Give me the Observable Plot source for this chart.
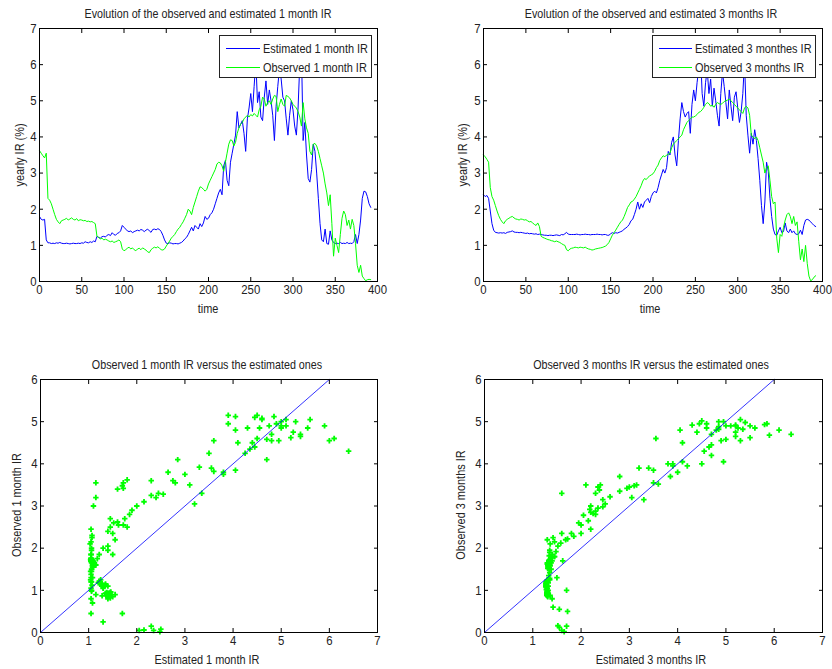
<!DOCTYPE html>
<html><head><meta charset="utf-8">
<script src="https://cdn.jsdelivr.net/npm/d3@7"></script>
<script src="https://cdn.jsdelivr.net/npm/@observablehq/plot@0.6"></script>
<style>
body{margin:0;background:#fff;}
#root{position:relative;width:832px;height:669px;overflow:hidden;background:#fff;}
.panel{position:absolute;}
.lbl{position:absolute;white-space:nowrap;color:#222;line-height:1;transform-origin:50% 50%;}
.legend{position:absolute;background:#fff;border:1px solid #222;box-sizing:border-box;}
.legend .ln{position:absolute;height:0;}
.legend .tx{position:absolute;white-space:nowrap;color:#222;line-height:1;transform-origin:0 50%;}
</style>
</head><body><div id="root"></div><script>
// ---------- data ----------
const time = d3.range(0, 393, 2);
const timeTicks = [0, 50, 100, 150, 200, 250, 300, 350, 400];
const rateTicks = [0, 1, 2, 3, 4, 5, 6, 7];
const scatterXTicks = [0, 1, 2, 3, 4, 5, 6, 7];
const scatterYTicks = [0, 1, 2, 3, 4, 5, 6];
const diagonal = [0, 6];

const est1 = [
1.80,1.72,1.70,1.72,1.15,1.07,1.07,1.05,1.06,1.05,
1.07,1.06,1.08,1.06,1.05,1.05,1.06,1.05,1.04,1.05,
1.06,1.05,1.05,1.06,1.05,1.07,1.06,1.10,1.08,1.07,
1.10,1.08,1.12,1.10,1.25,1.22,1.20,1.24,1.25,1.23,
1.28,1.30,1.27,1.35,1.30,1.28,1.33,1.35,1.40,1.55,
1.50,1.45,1.40,1.38,1.40,1.35,1.38,1.40,1.42,1.40,
1.44,1.42,1.38,1.42,1.45,1.40,1.36,1.44,1.45,1.43,
1.46,1.44,1.38,1.28,1.15,1.06,1.05,1.07,1.06,1.04,
1.05,1.05,1.04,1.06,1.08,1.12,1.18,1.22,1.30,1.40,
1.50,1.40,1.55,1.50,1.45,1.60,1.52,1.62,1.80,1.72,
1.75,1.85,1.90,2.00,2.15,2.30,2.45,2.55,2.40,3.20,
3.35,2.80,2.65,3.30,3.55,3.80,4.05,4.70,4.25,4.35,
4.45,4.10,3.60,4.50,4.80,5.20,4.70,5.40,6.10,4.95,
5.25,4.55,4.45,5.10,5.55,4.90,5.30,5.00,4.60,3.90,
4.85,5.40,5.90,5.60,5.10,5.00,4.50,4.05,4.60,5.00,
4.75,4.30,4.05,4.80,6.00,6.40,3.90,4.40,3.50,2.85,
2.75,3.10,3.80,3.60,3.00,2.30,1.60,1.15,1.10,1.45,
1.05,1.03,1.40,1.15,1.08,1.05,1.06,1.05,1.08,1.05,
1.06,1.05,1.08,1.05,1.06,1.05,1.10,1.30,1.05,1.30,
1.70,2.30,2.50,2.48,2.35,2.15,2.05];

const obs1 = [
3.62,3.55,3.48,3.42,3.55,2.30,2.25,2.15,2.00,1.85,
1.72,1.65,1.60,1.68,1.70,1.72,1.75,1.70,1.73,1.76,
1.72,1.70,1.74,1.68,1.71,1.70,1.68,1.69,1.66,1.67,
1.65,1.66,1.63,1.60,1.25,1.22,1.18,1.20,1.15,1.17,
1.15,1.12,1.10,1.12,1.08,1.10,1.12,1.15,1.10,0.90,
0.85,0.88,0.92,0.95,0.90,0.93,0.88,0.85,0.90,0.92,
0.88,0.93,0.90,0.87,0.82,0.80,0.88,0.92,0.95,0.93,
0.96,0.92,0.88,0.87,0.90,0.98,1.05,1.12,1.20,1.25,
1.30,1.38,1.45,1.50,1.58,1.65,1.75,1.85,2.00,1.95,
1.85,2.05,2.20,2.35,2.50,2.62,2.60,2.55,2.50,2.55,
2.70,2.80,2.90,3.00,3.10,3.25,3.30,3.28,3.20,3.05,
3.30,3.55,3.80,3.92,3.90,3.75,3.85,4.10,4.25,4.35,
4.40,4.50,4.55,4.60,4.55,4.62,4.58,4.65,4.60,4.55,
4.75,4.85,5.10,5.05,4.85,4.95,5.00,4.90,5.05,5.15,
5.12,4.70,4.90,5.05,4.90,4.85,5.15,5.12,5.08,5.00,
4.90,4.85,4.80,4.70,4.55,4.30,4.95,4.50,4.25,4.10,
3.60,3.50,3.80,3.82,3.75,3.60,3.40,3.20,3.00,2.70,
2.45,2.10,2.40,1.60,0.70,1.20,1.00,0.80,1.30,1.75,
1.95,1.85,1.55,1.70,1.45,1.72,1.55,1.05,0.45,0.25,
0.45,0.15,0.08,0.02,0.05,0.06,0.05];

const est3 = [
2.40,2.35,2.38,2.30,1.95,1.60,1.42,1.36,1.35,1.34,
1.35,1.34,1.35,1.33,1.36,1.37,1.38,1.40,1.37,1.36,
1.36,1.35,1.36,1.35,1.34,1.33,1.34,1.32,1.33,1.32,
1.31,1.32,1.30,1.31,1.30,1.29,1.28,1.28,1.27,1.28,
1.28,1.27,1.28,1.29,1.28,1.27,1.30,1.29,1.32,1.36,
1.31,1.30,1.30,1.30,1.30,1.31,1.30,1.29,1.30,1.30,
1.31,1.30,1.30,1.29,1.30,1.30,1.30,1.31,1.30,1.30,
1.29,1.30,1.30,1.28,1.28,1.32,1.35,1.33,1.35,1.34,
1.36,1.38,1.40,1.45,1.48,1.52,1.58,1.68,1.72,1.85,
2.00,2.20,2.00,2.15,2.05,2.20,2.25,2.30,2.18,2.35,
2.45,2.50,2.45,2.60,2.80,2.95,3.10,3.00,3.15,3.60,
3.50,3.85,4.00,3.50,3.20,3.90,4.50,4.95,4.70,4.55,
4.65,4.70,4.10,4.90,5.30,5.00,5.50,5.90,6.35,5.20,
4.85,5.50,5.85,5.20,5.60,4.85,5.35,5.00,4.60,4.30,
5.20,5.80,5.40,4.95,4.50,5.30,4.85,4.45,5.10,5.25,
4.80,4.40,4.70,5.20,6.10,4.60,4.05,3.55,4.10,3.80,
4.20,3.90,3.40,2.80,2.10,1.60,2.20,3.30,3.05,2.30,
1.80,1.45,1.30,1.28,1.40,1.50,1.35,1.38,1.62,1.40,
1.35,1.45,1.35,1.40,1.32,1.30,1.32,1.42,1.30,1.55,
1.70,1.72,1.70,1.65,1.60,1.55,1.52];

const obs3 = [
3.50,3.45,3.38,3.30,2.60,2.35,2.25,2.10,1.95,1.82,
1.72,1.65,1.60,1.68,1.72,1.75,1.78,1.80,1.76,1.73,
1.72,1.70,1.73,1.72,1.70,1.71,1.68,1.65,1.66,1.62,
1.58,1.55,1.62,1.52,1.25,1.22,1.20,1.18,1.16,1.15,
1.13,1.12,1.10,1.12,1.10,1.08,1.05,1.02,1.00,0.88,
0.85,0.90,0.92,0.93,0.95,0.94,0.93,0.95,0.94,0.93,
0.95,0.92,0.90,0.89,0.87,0.88,0.90,0.91,0.92,0.93,
0.94,0.96,0.98,1.02,1.08,1.18,1.28,1.35,1.42,1.50,
1.58,1.65,1.70,1.80,1.92,2.05,2.12,2.20,2.22,2.28,
2.35,2.45,2.55,2.65,2.78,2.85,2.82,2.88,2.92,2.95,
2.98,3.05,3.15,3.22,3.35,3.42,3.48,3.45,3.50,3.52,
3.55,3.70,3.80,3.85,3.90,3.95,4.00,4.05,4.20,4.30,
4.40,4.45,4.50,4.55,4.55,4.58,4.62,4.68,4.70,4.75,
4.82,4.90,4.95,4.92,4.85,4.88,4.82,4.90,4.95,4.92,
4.90,4.93,4.98,5.00,5.02,5.05,5.00,4.95,4.90,4.85,
4.80,4.75,4.70,4.65,4.80,4.85,4.80,4.60,4.05,4.00,
3.95,4.00,3.90,3.70,3.50,3.30,3.00,3.15,3.20,2.80,
2.35,2.15,2.20,1.20,0.80,1.30,1.25,1.50,1.70,1.85,
1.90,1.80,1.60,1.80,1.55,1.65,1.10,0.60,0.90,0.55,
1.00,0.50,0.15,0.02,0.05,0.12,0.16];

const titles = [
  "Evolution of the observed and estimated 1 month IR",
  "Evolution of the observed and estimated 3 months IR",
  "Observed 1 month IR versus the estimated ones",
  "Observed 3 months IR versus the estimated ones"];
const legendLabels1 = ["Estimated 1 month IR", "Observed 1 month IR"];
const legendLabels3 = ["Estimated 3 monthes IR", "Observed 3 months IR"];
const xLabels = ["time", "time", "Estimated 1 month IR", "Estimated 3 months IR"];
const yLabels = ["yearly IR (%)", "yearly IR (%)", "Observed 1 month IR", "Observed 3 months IR"];

const BLUE = "#0000ff", GREEN = "#00ff00", INK = "#222";

// ---------- fonts (Arial-metric font, horizontally condensed like the source) ----------
const FF = `"Liberation Sans", Arial, Helvetica, sans-serif`;
const ctx = document.createElement("canvas").getContext("2d");
function tw(size, s) { ctx.font = `${size}px ${FF}`; return ctx.measureText(s).width; }
const fsTitle = 13, fsLegend = 13, fsLabel = 13.5, fsTick = 13.5;
const sxTitle = 247 / tw(fsTitle, titles[0]);
const sxLegend = 105 / tw(fsLegend, legendLabels1[0]);
const sxLabel = 105 / tw(fsLabel, xLabels[2]);
const sxTick = 19 / tw(fsTick, "400");

// ---------- helpers ----------
const root = document.getElementById("root");
function place(node, left, top) {
  const d = document.createElement("div");
  d.className = "panel"; d.style.left = left + "px"; d.style.top = top + "px";
  d.appendChild(node); root.appendChild(d);
}
function label(text, cx, cy, size, sx, rot) {
  const d = document.createElement("div");
  d.className = "lbl";
  d.textContent = text;
  d.style.left = cx + "px"; d.style.top = cy + "px";
  d.style.fontSize = size + "px"; d.style.fontFamily = FF;
  d.style.transform = `translate(-50%,-50%)${rot ? " rotate(-90deg)" : ""} scaleX(${sx})`;
  root.appendChild(d);
}
function legend(left, top, w, h, labels, lineL, lineW, textL) {
  const box = document.createElement("div");
  box.className = "legend";
  Object.assign(box.style, {left: left + "px", top: top + "px", width: w + "px", height: h + "px"});
  const colors = [BLUE, GREEN];
  const rows = [12, 31];
  labels.forEach((t, k) => {
    const ln = document.createElement("div");
    ln.className = "ln";
    Object.assign(ln.style, {left: lineL + "px", top: rows[k] + "px", width: lineW + "px", borderTop: `1px solid ${colors[k]}`});
    const tx = document.createElement("div");
    tx.className = "tx"; tx.textContent = t;
    Object.assign(tx.style, {left: textL + "px", top: rows[k] + "px", fontSize: fsLegend + "px", fontFamily: FF,
      transform: `translateY(-50%) scaleX(${sxLegend})`});
    box.appendChild(ln); box.appendChild(tx);
  });
  root.appendChild(box);
}
function axes(xT, yT) {
  const t = {fontSize: fsTick, fill: INK};
  return [
    Plot.frame({stroke: "#000", strokeWidth: 1}),
    Plot.axisX(xT, {anchor: "bottom", tickSize: -4, tickPadding: 7, label: null, ...t}),
    Plot.axisX(xT, {anchor: "top", tickSize: -4, tickFormat: () => "", label: null}),
    Plot.axisY(yT, {anchor: "left", tickSize: -4, tickPadding: 7, label: null, ...t}),
    Plot.axisY(yT, {anchor: "right", tickSize: -4, tickFormat: () => "", label: null})
  ];
}
function condenseTicks(svg) {
  svg.querySelectorAll("text").forEach(el => {
    const tr = el.getAttribute("transform") || "";
    el.setAttribute("transform", `${tr} scale(${sxTick},1)`);
  });
  return svg;
}
function linePanel(est, obs, ml, mr) {
  const rows = time.map((t, i) => ({t, est: est[i], obs: obs[i]}));
  return condenseTicks(Plot.plot({
    width: 416, height: 320,
    marginTop: 28, marginBottom: 39, marginLeft: ml, marginRight: mr,
    style: {fontFamily: FF, fontSize: fsTick + "px", color: "#000", background: "transparent"},
    x: {domain: [0, 400]}, y: {domain: [0, 7]},
    marks: [
      Plot.line(rows, {x: "t", y: "est", stroke: BLUE, strokeWidth: 1}),
      Plot.line(rows, {x: "t", y: "obs", stroke: GREEN, strokeWidth: 1}),
      ...axes(timeTicks, rateTicks)
    ]
  }));
}
function scatterPanel(est, obs, ml, mr) {
  const rows = est.map((e, i) => ({est: e, obs: obs[i]}));
  return condenseTicks(Plot.plot({
    width: 416, height: 349,
    marginTop: 59, marginBottom: 37, marginLeft: ml, marginRight: mr,
    style: {fontFamily: FF, fontSize: fsTick + "px", color: "#000", background: "transparent"},
    x: {domain: [0, 7]}, y: {domain: [0, 6]},
    marks: [
      Plot.dot(rows, {x: "est", y: "obs", symbol: "cross", r: 2.3, fill: GREEN, stroke: "none"}),
      Plot.line(diagonal, {x: d => d, y: d => d, stroke: BLUE, strokeWidth: 0.8}),
      ...axes(scatterXTicks, scatterYTicks)
    ]
  }));
}

// ---------- panels ----------
place(linePanel(est1, obs1, 39, 39), 0, 0);
place(linePanel(est3, obs3, 67, 10), 416, 0);
place(scatterPanel(est1, obs1, 40, 39), 0, 320);
place(scatterPanel(est3, obs3, 68, 10), 416, 320);

// titles and axis labels
label(titles[0], 208, 13, fsTitle, sxTitle);
label(titles[1], 651, 13, fsTitle, sxTitle);
label(titles[2], 207, 364, fsTitle, sxTitle);
label(titles[3], 651, 364, fsTitle, sxTitle);
label(xLabels[0], 208, 309, fsLabel, sxLabel);
label(xLabels[1], 650, 309, fsLabel, sxLabel);
label(xLabels[2], 207, 660, fsLabel, sxLabel);
label(xLabels[3], 651, 660, fsLabel, sxLabel);
label(yLabels[0], 20, 155, fsLabel, sxLabel, true);
label(yLabels[1], 463, 155, fsLabel, sxLabel, true);
label(yLabels[2], 17, 505, fsLabel, sxLabel, true);
label(yLabels[3], 461, 505, fsLabel, sxLabel, true);

// legends
legend(219, 35, 153, 43, legendLabels1, 6, 34, 43);
legend(652, 35, 164, 43, legendLabels3, 6, 33, 42);
</script></body></html>
